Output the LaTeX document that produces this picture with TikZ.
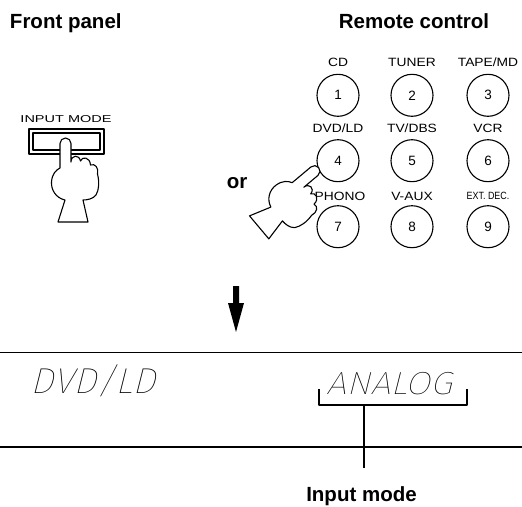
\documentclass[tikz,border=0pt]{standalone}
\usepackage{fontspec}
\setmainfont{Liberation Sans}
\newfontfamily\lcdfont{Fira Sans Thin}
\begin{document}
\begin{tikzpicture}[x=1pt,y=1pt,line join=round,
  heading/.style={font=\fontsize{20.5}{24}\selectfont\bfseries,inner sep=0pt,anchor=base},
  keycap/.style={circle,draw,line width=1.1pt,minimum size=42pt,inner sep=0pt,
    font=\fontsize{13.5}{16}\selectfont},
  keylabel/.style={font=\fontsize{12}{14}\selectfont,inner sep=0pt,anchor=base},
  panelline/.style={line width=1.2pt},
  handline/.style={draw,fill=white,line width=1.1pt},
  lcdtext/.style={inner sep=0pt,anchor=base west,xslant=0.25},
  pics/hand/.style={code={
    % pointing hand, fingertip at the origin, finger along +y
    \draw[handline] (-6,-30) -- (-6,-5.5) arc[start angle=180,end angle=0,radius=5.5]
      -- (5,-24)
      .. controls (5,-17) and (13,-16) .. (14.5,-23)
      .. controls (16,-18) and (24,-19) .. (24.5,-27)
      .. controls (29,-25) and (33,-30) .. (31.5,-36)
      .. controls (33.5,-44) and (33,-52) .. (30,-57)
      .. controls (27,-61) and (21,-62) .. (17,-62)
      -- (22,-84) -- (-8,-84) -- (-1,-62)
      .. controls (-10,-60) and (-15,-52) .. (-14.5,-44)
      .. controls (-14,-36) and (-10,-32) .. (-6,-30) -- cycle;
  }},
]
\useasboundingbox (0,0) rectangle (522,-506);

% headings
\node[heading] (front)  at (65.8,-28.3) {Front panel};
\node[heading] (remote) at (414,-28.3)  {Remote control};
\node[heading] (or)     at (237,-188)   {or};

% front panel button
\node[keylabel,font=\fontsize{10}{12}\selectfont,xscale=1.45] (btnlabel) at (66,-122.3) {INPUT MODE};
\node[draw,line width=1.1pt,minimum width=75pt,minimum height=25pt,inner sep=0pt] (btn) at (66.5,-141.5) {};
\node[draw,line width=1.1pt,minimum width=67pt,minimum height=17pt,inner sep=0pt] (btninner) at (66.5,-141.5) {};
\pic (fronthand) at (66,-138) {hand};

% remote control keypad
\node[keylabel,xscale=1.15] (l1) at (338,-66) {CD};
\node[keylabel,xscale=1.15] (l2) at (412,-66) {TUNER};
\node[keylabel,xscale=1.15] (l3) at (488,-66) {TAPE/MD};
\node[keylabel,xscale=1.15] (l4) at (338,-132.6) {DVD/LD};
\node[keylabel,xscale=1.15] (l5) at (412,-132.6) {TV/DBS};
\node[keylabel,xscale=1.15] (l6) at (488,-132.6) {VCR};
\node[keylabel,xscale=1.15] (l7) at (340,-200) {PHONO};
\node[keylabel,xscale=1.15] (l8) at (412,-200) {V-AUX};
\node[keylabel,font=\fontsize{10.5}{12}\selectfont,xscale=0.85] (l9) at (488,-199.5) {EXT. DEC.};

\node[keycap] (k1) at (338,-95.3)  {1};
\node[keycap] (k2) at (412,-95.3)  {2};
\node[keycap] (k3) at (488,-95.3)  {3};
\node[keycap] (k4) at (338,-160.7) {4};
\node[keycap] (k5) at (412,-160.7) {5};
\node[keycap] (k6) at (488,-160.7) {6};
\node[keycap] (k7) at (338,-226.7) {7};
\node[keycap] (k8) at (412,-226.7) {8};
\node[keycap] (k9) at (488,-226.7) {9};
\pic[rotate=-50] (remotehand) at (319,-168) {hand};

% arrow down to the display
\fill (233,-286) -- (239,-286) -- (239,-303) -- (244,-303) -- (236,-332)
  -- (228,-303) -- (233,-303) -- cycle;

% display window
\draw[panelline] (0,-352.7) -- (522,-352.7);
\draw[panelline] (0,-447) -- (522,-447);
\node[lcdtext,font=\lcdfont\fontsize{36}{40}\selectfont,xscale=1.04] (src) at (30,-393.5) {DVD/LD};
\node[lcdtext,font=\lcdfont\fontsize{32}{36}\selectfont,xscale=1.13] (mode) at (326,-394.5) {ANALOG};

% bracket and callout
\draw[panelline] (319,-389) -- (319,-405) -- (467,-405) -- (467,-389);
\coordinate (brk) at (364,-405);
\coordinate (stemend) at (364,-468);
\draw[panelline] (brk) -- (stemend);
\node[heading] (imode) at (361.5,-501.5) {Input mode};
\end{tikzpicture}
\end{document}
